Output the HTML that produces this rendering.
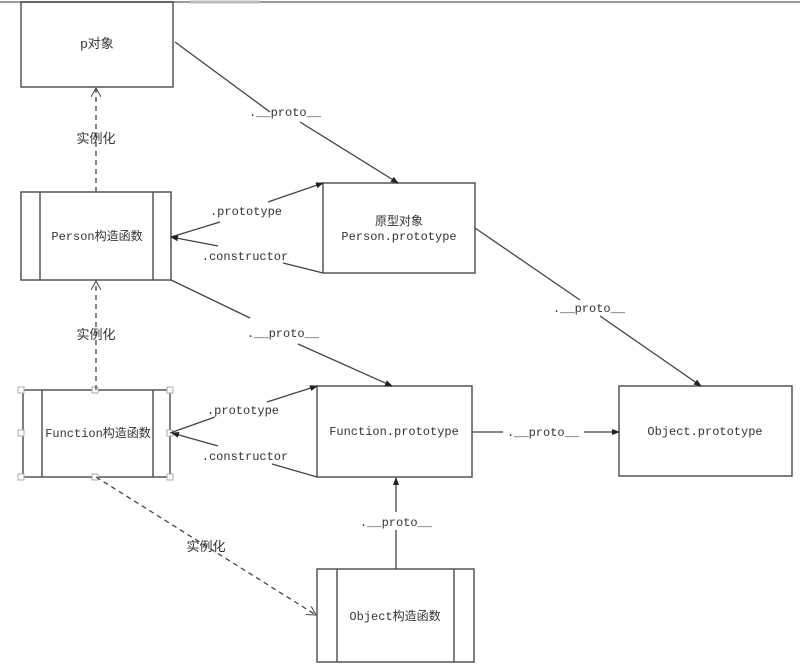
<!DOCTYPE html>
<html><head><meta charset="utf-8"><style>
html,body{margin:0;padding:0;background:#fff;width:800px;height:666px;overflow:hidden}
svg text{font-family:"Liberation Mono","Noto Sans CJK SC",monospace;font-size:12px;fill:#333}
.cj{font-family:"Liberation Sans","Noto Sans CJK SC",sans-serif;font-size:13px}
</style></head><body>
<svg width="800" height="666" viewBox="0 0 800 666" xmlns="http://www.w3.org/2000/svg">
<defs>
<marker id="a" markerWidth="8" markerHeight="8" refX="7" refY="4" orient="auto" markerUnits="userSpaceOnUse"><path d="M0,1 L8,4 L0,7 Z" fill="#222"/></marker>
<marker id="o" markerWidth="10" markerHeight="10" refX="9" refY="5" orient="auto" markerUnits="userSpaceOnUse"><path d="M0,0 L9,5 L0,10" fill="none" stroke="#444"/></marker>
</defs>
<line x1="0" y1="2" x2="800" y2="2" stroke="#999" stroke-width="2"/>
<line x1="190" y1="2" x2="260" y2="2" stroke="#bbb" stroke-width="3"/>
<g fill="none" stroke="#555" stroke-width="1.5">
<rect x="21" y="2" width="152" height="85"/>
<rect x="21" y="192" width="150" height="88"/><line x1="40" y1="192" x2="40" y2="280"/><line x1="153" y1="192" x2="153" y2="280"/>
<rect x="323" y="183" width="152" height="90"/>
<rect x="23" y="390" width="147" height="87"/><line x1="42" y1="390" x2="42" y2="477"/><line x1="153" y1="390" x2="153" y2="477"/>
<rect x="317" y="386" width="155" height="91"/>
<rect x="619" y="386" width="173" height="90"/>
<rect x="317" y="569" width="157" height="93"/><line x1="337" y1="569" x2="337" y2="662"/><line x1="454" y1="569" x2="454" y2="662"/>
</g>
<g fill="#fff" stroke="#aaa" stroke-width="1">
<rect x="18" y="387" width="6" height="6"/><rect x="92" y="387" width="6" height="6"/><rect x="167" y="387" width="6" height="6"/>
<rect x="18" y="430" width="6" height="6"/><rect x="167" y="430" width="6" height="6"/>
<rect x="18" y="474" width="6" height="6"/><rect x="92" y="474" width="6" height="6"/><rect x="167" y="474" width="6" height="6"/>
</g>
<g fill="none" stroke="#444" stroke-width="1.3">
<line x1="96" y1="192" x2="96" y2="88" stroke-dasharray="5,4" marker-end="url(#o)"/>
<line x1="96" y1="390" x2="96" y2="281" stroke-dasharray="5,4" marker-end="url(#o)"/>
<line x1="96" y1="477" x2="316" y2="615" stroke-dasharray="5,4" marker-end="url(#o)"/>
<polyline points="175,42 270,112"/><line x1="300" y1="122" x2="398" y2="183" marker-end="url(#a)"/>
<line x1="171" y1="237" x2="220" y2="222"/><line x1="268" y1="202" x2="323" y2="183" marker-end="url(#a)"/>
<line x1="218" y1="246" x2="171" y2="237" marker-end="url(#a)"/><line x1="283" y1="263" x2="323" y2="273"/>
<line x1="171" y1="280" x2="250" y2="318"/><line x1="298" y1="344" x2="392" y2="386" marker-end="url(#a)"/>
<line x1="475" y1="228" x2="580" y2="300"/><line x1="600" y1="316" x2="701" y2="386" marker-end="url(#a)"/>
<line x1="170" y1="433" x2="215" y2="417"/><line x1="267" y1="402" x2="317" y2="386" marker-end="url(#a)"/>
<line x1="218" y1="446" x2="172" y2="433" marker-end="url(#a)"/><line x1="272" y1="464" x2="317" y2="477"/>
<line x1="472" y1="432" x2="503" y2="432"/><line x1="584" y1="432" x2="619" y2="432" marker-end="url(#a)"/>
<line x1="396" y1="569" x2="396" y2="530"/><line x1="396" y1="512" x2="396" y2="478" marker-end="url(#a)"/>
</g>
<text class="cj" x="97" y="48" text-anchor="middle">p对象</text>
<text class="cj" x="96" y="143" text-anchor="middle">实例化</text>
<text class="cj" x="96" y="339" text-anchor="middle">实例化</text>
<text class="cj" x="206" y="551" text-anchor="middle">实例化</text>
<text x="97" y="240" text-anchor="middle">Person构造函数</text>
<text x="98" y="437" text-anchor="middle">Function构造函数</text>
<text x="395" y="620" text-anchor="middle">Object构造函数</text>
<text x="399" y="225" text-anchor="middle">原型对象</text>
<text x="399" y="240" text-anchor="middle">Person.prototype</text>
<text x="394" y="435" text-anchor="middle">Function.prototype</text>
<text x="705" y="435" text-anchor="middle">Object.prototype</text>
<text x="285" y="116" text-anchor="middle">.__proto__</text>
<text x="283" y="337" text-anchor="middle">.__proto__</text>
<text x="589" y="312" text-anchor="middle">.__proto__</text>
<text x="543" y="436" text-anchor="middle">.__proto__</text>
<text x="396" y="526" text-anchor="middle">.__proto__</text>
<text x="246" y="215" text-anchor="middle">.prototype</text>
<text x="245" y="260" text-anchor="middle">.constructor</text>
<text x="243" y="414" text-anchor="middle">.prototype</text>
<text x="245" y="460" text-anchor="middle">.constructor</text>
</svg>
</body></html>
